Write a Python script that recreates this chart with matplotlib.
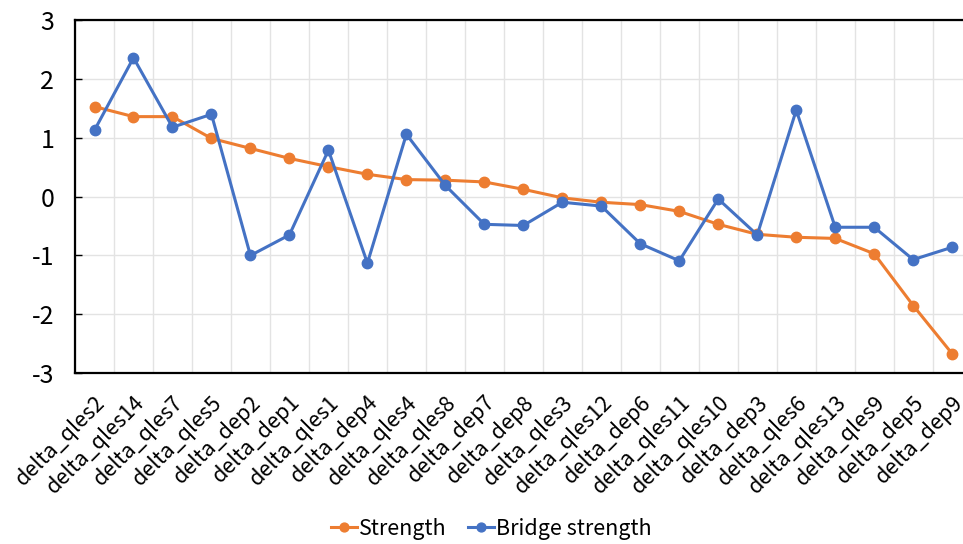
import numpy as np
import matplotlib
matplotlib.use("Agg")
import matplotlib.pyplot as plt

plt.rcParams['font.family'] = ['Noto Sans CJK SC', 'DejaVu Sans']
plt.rcParams['font.weight'] = 'light'
plt.rcParams['axes.unicode_minus'] = False

# item names, in the order shown on the x axis
items = ['delta_qles2', 'delta_qles14', 'delta_qles7', 'delta_qles5', 'delta_dep2',
         'delta_dep1', 'delta_qles1', 'delta_dep4', 'delta_qles4', 'delta_qles8',
         'delta_dep7', 'delta_dep8', 'delta_qles3', 'delta_qles12', 'delta_dep6',
         'delta_qles11', 'delta_qles10', 'delta_dep3', 'delta_qles6', 'delta_qles13',
         'delta_qles9', 'delta_dep5', 'delta_dep9']

# standardized centrality values
strength = [1.53, 1.36, 1.36, 0.99, 0.82, 0.65, 0.51, 0.38, 0.29, 0.28, 0.25,
            0.125, -0.02, -0.095, -0.135, -0.25, -0.47, -0.64, -0.69, -0.71,
            -0.97, -1.85, -2.67]
bridge_strength = [1.13, 2.36, 1.18, 1.40, -1.00, -0.65, 0.79, -1.13, 1.06, 0.19,
                   -0.47, -0.49, -0.095, -0.16, -0.80, -1.09, -0.04, -0.65, 1.47,
                   -0.52, -0.52, -1.07, -0.86]

orange = '#ED7D31'
blue = '#4472C4'

fig = plt.figure(figsize=(9.63, 5.44), dpi=100)
ax = fig.add_axes([0.0779, 0.314, 0.9311, 0.649])

x = np.arange(len(items))
ax.plot(x, strength, color=orange, lw=2.2, marker='o', ms=7.5, label='Strength', zorder=3)
ax.plot(x, bridge_strength, color=blue, lw=2.2, marker='o', ms=7.5, label='Bridge strength', zorder=4)

ax.set_xlim(-0.5, len(items) - 0.5)
ax.set_ylim(-3, 3)
ax.set_yticks(np.arange(-3, 4, 1))
ax.set_xticks(x)
ax.set_xticklabels(items, rotation=45, ha='right', rotation_mode='anchor')
ax.set_xticks(np.arange(-0.5, len(items), 1), minor=True)

ax.grid(True, which='minor', axis='x', color='#E3E3E3', lw=1)
ax.grid(True, which='major', axis='y', color='#E3E3E3', lw=1)
ax.set_axisbelow(True)

ax.tick_params(axis='x', which='major', length=0, pad=13, labelsize=15.5)
ax.tick_params(axis='x', which='minor', length=0)
ax.tick_params(axis='y', direction='in', length=5, width=1, pad=15, labelsize=18)

for side in ['top', 'left', 'bottom', 'right']:
    ax.spines[side].set_linewidth(1.6)
    ax.spines[side].set_color('black')

fig.legend(loc='center', bbox_to_anchor=(0.51, 0.028), ncol=2, frameon=False,
           fontsize=15.5, handlelength=1.2, handletextpad=0.1, columnspacing=1.0,
           markerscale=0.85)

fig.savefig('out.png', dpi=100)
